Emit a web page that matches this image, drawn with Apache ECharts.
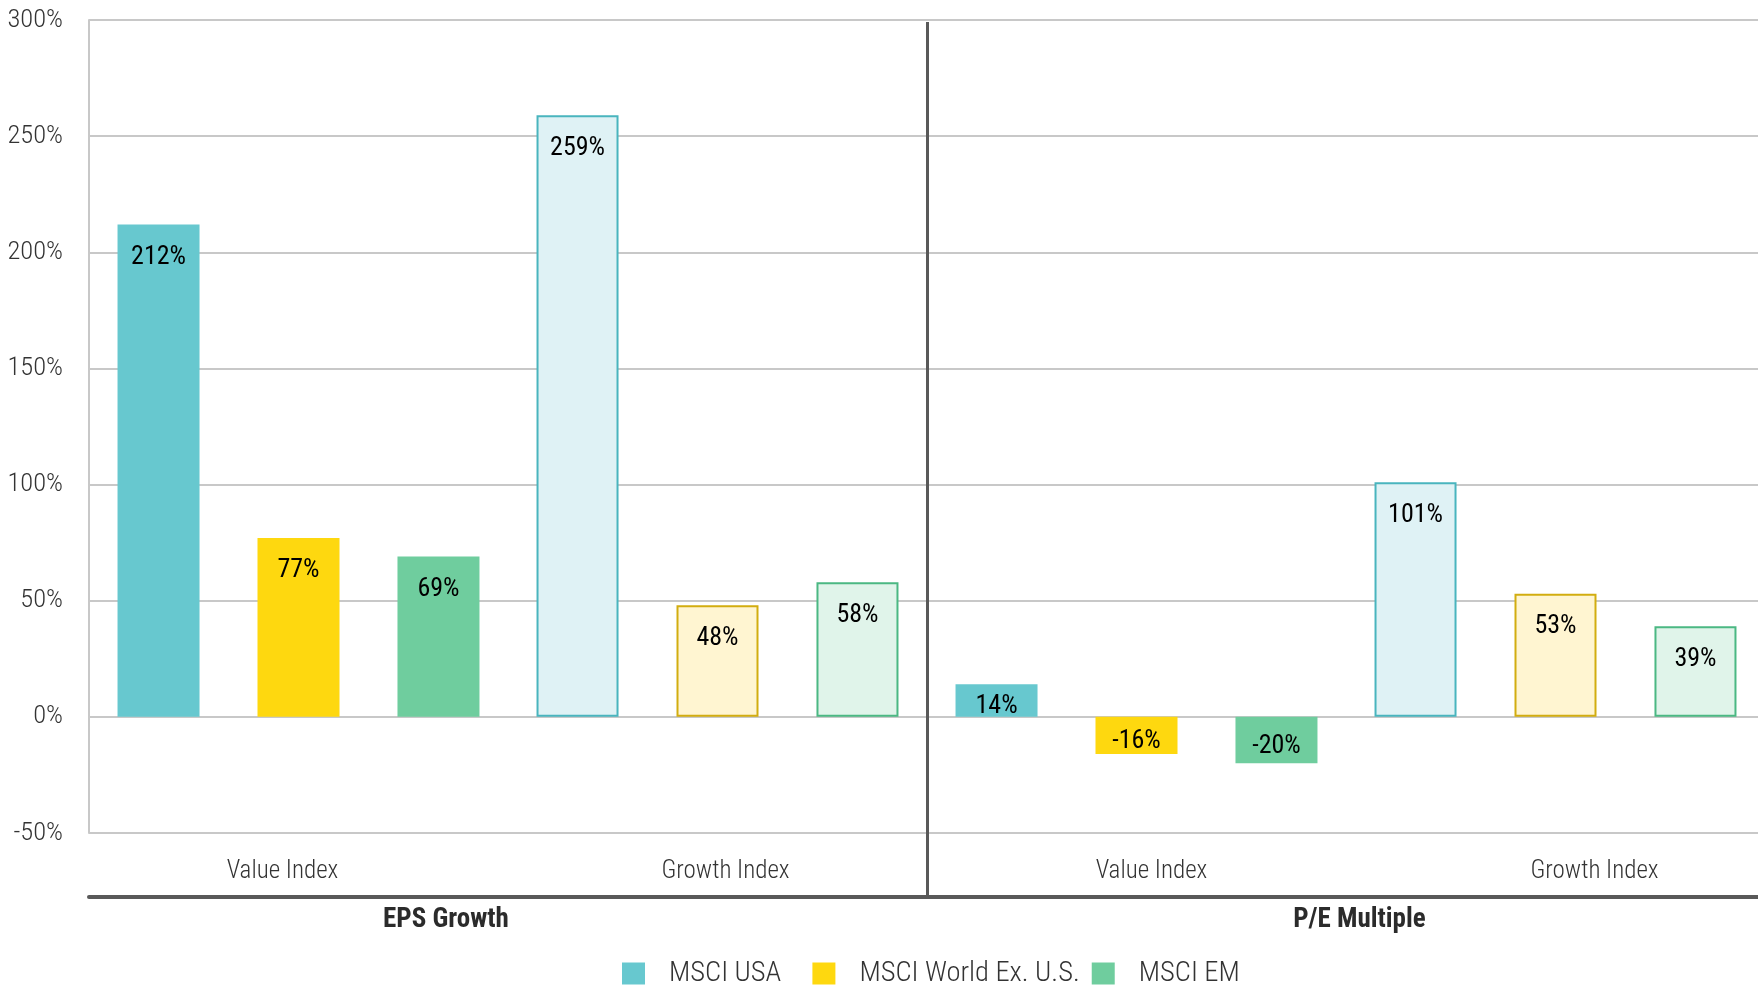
<!DOCTYPE html>
<html>
<head>
<meta charset="utf-8">
<script src="https://cdn.jsdelivr.net/npm/echarts@6/dist/echarts.min.js"></script>
<style>
  html, body { margin: 0; padding: 0; background: #fff; }
  #chart { width: 1758px; height: 987px; }
</style>
</head>
<body>
<div id="chart"></div>
<script>
// categories along the bottom, two per group
const categories = ['Value Index', 'Growth Index', 'Value Index', 'Growth Index'];
const groups = ['EPS Growth', 'P/E Multiple'];
const seriesNames = ['MSCI USA', 'MSCI World Ex. U.S.', 'MSCI EM'];

// values in %, order: EPS Value, EPS Growth, P/E Value, P/E Growth
const msciUSA = [212, 259, 14, 101];
const msciWorld = [77, 48, -16, 53];
const msciEM = [69, 58, -20, 39];

const yTicks = [-50, 0, 50, 100, 150, 200, 250, 300];

// layout only: label nudges (px) and group-label spots on the 0..2 group axis
const catShift = [-16, 8, 15, 39];
const groupPos = [0.426, 1.516];

const FONT = '"Roboto Condensed", "DejaVu Sans Condensed", sans-serif';

// solid colour for value bars, light fill + border for growth bars
const palette = [
  { solid: '#67c8cf', light: '#dff2f5', border: '#49b5be' },
  { solid: '#fed80f', light: '#fff5d1', border: '#d2ad10' },
  { solid: '#6fcd9e', light: '#e0f4ea', border: '#4bb883' }
];

function buildData(values, col) {
  return values.map(function (v, i) {
    var small = Math.abs(v) < 25;
    var item = {
      value: v,
      label: small ? { position: 'inside', padding: 0, offset: [0, 6] } : { position: 'insideTop' }
    };
    if (categories[i] === 'Growth Index') {
      item.itemStyle = { color: col.light, borderColor: col.border, borderWidth: 2 };
    }
    return item;
  });
}

var chart = echarts.init(document.getElementById('chart'));

var series = [msciUSA, msciWorld, msciEM].map(function (vals, k) {
  return {
    name: seriesNames[k],
    type: 'bar',
    xAxisIndex: 0,
    barWidth: 82,
    barGap: '70.7%',
    itemStyle: { color: palette[k].solid },
    label: {
      show: true,
      distance: 9,
      padding: [11, 0, 0, 0],
      formatter: '{c}%',
      color: '#000',
      fontFamily: FONT,
      fontSize: 26
    },
    data: buildData(vals, palette[k])
  };
});

var catRich = {};
catShift.forEach(function (s, i) {
  catRich['c' + i] = {
    fontFamily: FONT, fontSize: 25, fontWeight: 300, color: '#333',
    padding: s >= 0 ? [4, 0, 0, 2 * s] : [4, -2 * s, 0, 0]
  };
});

var option = {
  animation: false,
  grid: { left: 89, width: 1676, top: 20, bottom: 154, containLabel: false, outerBoundsMode: 'none' },
  legend: {
    data: seriesNames,
    left: 622,
    top: 959,
    padding: 0,
    icon: 'rect',
    itemWidth: 23,
    itemHeight: 22,
    itemGap: 12,
    // first entry sits a little further from the next one
    formatter: function (name) {
      return name === seriesNames[0] ? name + '\u00a0\u00a0\u00a0' : name;
    },
    textStyle: { fontFamily: FONT, fontSize: 28.5, fontWeight: 300, color: '#333', padding: [0, 0, 0, 19] }
  },
  xAxis: [
    {
      type: 'category',
      data: categories,
      axisLine: { show: false },
      axisTick: { show: false },
      axisLabel: {
        margin: 22,
        formatter: function (v, i) { return '{c' + i + '|' + v + '}'; },
        rich: catRich
      }
    },
    {
      type: 'value',
      position: 'bottom',
      offset: 64,
      min: 0,
      max: 2,
      splitLine: { show: false },
      axisLine: { show: true, lineStyle: { color: '#595959', width: 4 } },
      axisTick: {
        show: true,
        customValues: [1],
        inside: true,
        length: 875,
        lineStyle: { color: '#595959', width: 3 }
      },
      axisLabel: {
        customValues: groupPos,
        margin: 8,
        padding: [2, 0, 0, 0],
        formatter: function (v) { return v < 1 ? groups[0] : groups[1]; },
        fontFamily: FONT,
        fontSize: 27,
        fontWeight: 'bold',
        color: '#2b2b2b'
      }
    }
  ],
  yAxis: {
    type: 'value',
    min: yTicks[0],
    max: yTicks[yTicks.length - 1],
    interval: 50,
    axisLine: { show: true, lineStyle: { color: '#c8c8c8', width: 2 } },
    axisTick: { show: false },
    splitLine: { lineStyle: { color: '#c8c8c8', width: 2 } },
    axisLabel: {
      margin: 26,
      padding: [7, 0, 0, 0],
      formatter: '{value}%',
      fontFamily: FONT,
      fontSize: 26.5,
      fontWeight: 300,
      color: '#333'
    }
  },
  series: series
};

chart.setOption(option);
</script>
</body>
</html>
